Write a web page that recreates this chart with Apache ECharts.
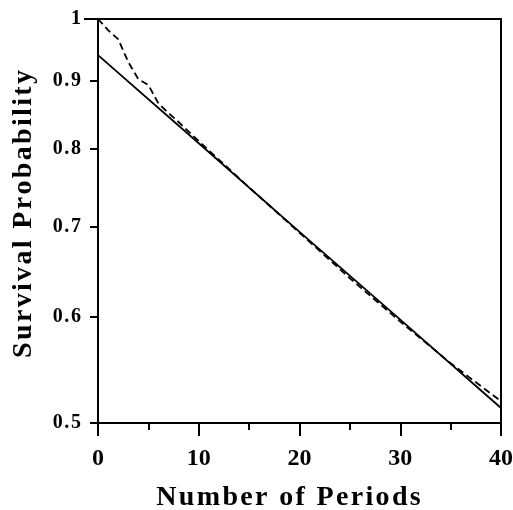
<!DOCTYPE html>
<html>
<head>
<meta charset="utf-8">
<script src="https://cdn.jsdelivr.net/npm/echarts@6/dist/echarts.min.js"></script>
<style>
  html, body { margin: 0; padding: 0; background: #fff; }
  #chart { width: 513px; height: 510px; }
</style>
</head>
<body>
<div id="chart"></div>
<script>
// fitted line (straight on log scale)
const fitPeriods = [0, 10, 20, 30, 40]
const fitSurvival = [0.940, 0.808, 0.694, 0.597, 0.513]

// observed (dashed)
const obsPeriods = [0, 1, 2, 3, 4, 5, 6, 7, 8, 10, 15, 20, 25, 30, 35, 40]
const obsSurvival = [1.0, 0.981, 0.966, 0.929, 0.902, 0.893, 0.865, 0.851, 0.838, 0.811, 0.749, 0.693, 0.641, 0.595, 0.554, 0.519]

const yTicks = [0.5, 0.6, 0.7, 0.8, 0.9, 1]
const xTicks = [0, 10, 20, 30, 40]

const font = 'Liberation Serif'
// loose tracking like the original
const spaced = s => s.split('').join('\u200A')

const chart = echarts.init(document.getElementById('chart'), null, { renderer: 'canvas' })

chart.setOption({
  animation: false,
  grid: {
    left: 98, right: 12, top: 19, bottom: 87,
    outerBoundsMode: 'none',
    containLabel: false,
    show: true, borderColor: '#000', borderWidth: 2
  },
  xAxis: {
    type: 'value',
    min: 0, max: 40, interval: 10,
    name: spaced('Number of Periods'),
    nameLocation: 'middle',
    nameGap: 61,
    nameTextStyle: {
      fontFamily: font, fontWeight: 'bold', fontSize: 28, color: '#000',
      padding: [0, 22, 0, 0]
    },
    axisLine: { lineStyle: { color: '#000', width: 2 } },
    axisTick: { show: true, inside: false, length: 13, lineStyle: { color: '#000', width: 2 } },
    minorTick: { show: true, splitNumber: 2, length: 7, lineStyle: { color: '#000', width: 2 } },
    axisLabel: {
      margin: 24, fontFamily: font, fontWeight: 'bold', fontSize: 24, color: '#000',
      customValues: xTicks
    },
    splitLine: { show: false }
  },
  yAxis: [{
    type: 'log',
    logBase: 10,
    min: 0.5, max: 1,
    name: spaced('Survival Probability'),
    nameLocation: 'middle',
    nameGap: 60,
    nameRotate: 90,
    nameTextStyle: {
      fontFamily: font, fontWeight: 'bold', fontSize: 28, color: '#000',
      padding: [0, 0, 0, 14]
    },
    axisLine: { show: true, lineStyle: { color: '#000', width: 2 } },
    axisTick: { show: true, length: 8, customValues: yTicks, lineStyle: { color: '#000', width: 2 } },
    axisLabel: {
      margin: 17, fontFamily: font, fontWeight: 'bold', fontSize: 20, color: '#000',
      customValues: yTicks,
      formatter: v => spaced(String(+v.toFixed(1)))
    },
    splitLine: { show: false }
  }, {
    // longer tick at 1
    type: 'log',
    logBase: 10,
    min: 0.5, max: 1,
    position: 'left',
    axisLine: { show: false },
    axisTick: { show: true, length: 14, customValues: [1], lineStyle: { color: '#000', width: 2 } },
    axisLabel: { show: false },
    splitLine: { show: false }
  }],
  series: [{
    type: 'line',
    name: 'Fitted',
    data: fitPeriods.map((t, i) => [t, fitSurvival[i]]),
    showSymbol: false,
    lineStyle: { color: '#000', width: 1.8 }
  }, {
    type: 'line',
    name: 'Observed',
    data: obsPeriods.map((t, i) => [t, obsSurvival[i]]),
    showSymbol: false,
    lineStyle: { color: '#000', width: 1.8, type: [7, 4] }
  }]
})
</script>
</body>
</html>
